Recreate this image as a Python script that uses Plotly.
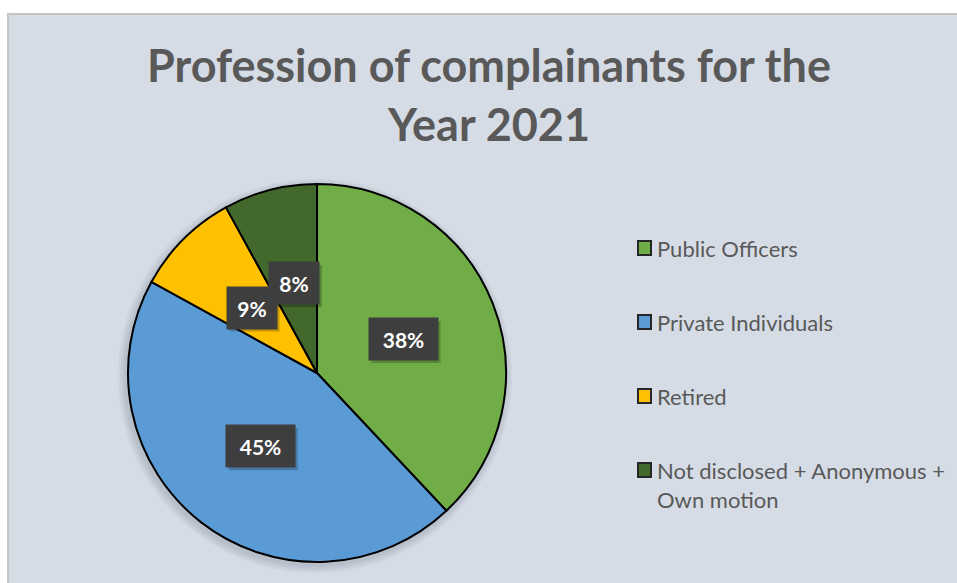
import math
import plotly.graph_objects as go

# Complainant profession shares, 2021
categories = ["Public Officers", "Private Individuals", "Retired",
              "Not disclosed + Anonymous + Own motion"]
legend_labels = ["Public Officers", "Private Individuals", "Retired",
                 "Not disclosed + Anonymous +<br>Own motion"]
values = [38, 45, 9, 8]
colors = ["#70AD47", "#5B9BD5", "#FFC000", "#43682B"]

W, H = 957, 583
CX, CY, R = 317, 373, 189          # pie centre and radius, px
LABEL_R = 0.49 * R                 # where the percentage boxes sit
TEXT = "#595959"
FONT = "Lato"

fig = go.Figure()
fig.add_trace(go.Pie(
    labels=categories,
    values=values,
    sort=False,
    direction="clockwise",
    rotation=0,
    marker=dict(colors=colors, line=dict(color="#000000", width=2)),
    textinfo="none",
    hoverinfo="label+percent",
    showlegend=False,
    domain=dict(x=[(CX - R) / W, (CX + R) / W],
                y=[1 - (CY + R) / H, 1 - (CY - R) / H]),
))

def px(x, y):
    return x / W, 1 - y / H

shapes = []
annotations = []

# chart area panel
shapes.append(dict(type="rect", xref="paper", yref="paper", layer="below",
                   x0=8 / W, x1=1.01, y0=-0.01, y1=1 - 14 / H,
                   fillcolor="#D6DCE5", line=dict(color="#C4C4C4", width=2)))

# soft shadow around the pie
for i in range(4):
    r = R + 2 + 2 * i
    shapes.append(dict(type="circle", xref="paper", yref="paper", layer="below",
                       x0=(CX - 2 - r) / W, x1=(CX - 2 + r) / W,
                       y0=1 - (CY + 3 + r) / H, y1=1 - (CY + 3 - r) / H,
                       fillcolor="rgba(60,70,90,0.05)", line=dict(width=0)))

# percentage label boxes, placed at each slice's mid-angle
total = sum(values)
cum = 0
for v in values:
    mid = (cum + v / 2) / total * 2 * math.pi
    cum += v
    lx = CX + LABEL_R * math.sin(mid)
    ly = CY - LABEL_R * math.cos(mid)
    txt = f"{round(v / total * 100)}%"
    w = 19 * len(txt) + 12
    h = 42
    # drop shadow under the box
    x0, y0 = px(lx - w / 2 + 3, ly - h / 2 + 3)
    x1, y1 = px(lx + w / 2 + 3, ly + h / 2 + 3)
    shapes.append(dict(type="rect", xref="paper", yref="paper", layer="above",
                       x0=x0, x1=x1, y0=y1, y1=y0,
                       fillcolor="rgba(0,0,0,0.22)", line=dict(width=0)))
    x, y = px(lx, ly)
    annotations.append(dict(
        x=x, y=y, xref="paper", yref="paper", showarrow=False,
        text=f"<b>{txt}</b>", width=w - 16, height=h - 16, borderpad=8,
        bgcolor="#3E3E3E", font=dict(family=FONT, size=21, color="#FFFFFF"),
        xanchor="center", yanchor="middle"))

# legend
for i, (lab, col) in enumerate(zip(legend_labels, colors)):
    cy = 248 + 74 * i
    x0, y0 = px(638, cy - 7)
    x1, y1 = px(651, cy + 7)
    shapes.append(dict(type="rect", xref="paper", yref="paper",
                       x0=x0, x1=x1, y0=y1, y1=y0, fillcolor=col,
                       line=dict(color="#262626", width=2)))
    tx, ty = px(655, cy - 15)
    annotations.append(dict(
        x=tx, y=ty, xref="paper", yref="paper", showarrow=False,
        text=lab, align="left", xanchor="left", yanchor="top",
        font=dict(family=FONT, size=22, color=TEXT)))

# title
tx, ty = px(489, 36)
annotations.append(dict(
    x=tx, y=ty, xref="paper", yref="paper", showarrow=False,
    text="<b>Profession of complainants for the<br>Year 2021</b>",
    xanchor="center", yanchor="top", align="center",
    font=dict(family=FONT, size=45, color=TEXT)))

fig.update_layout(
    width=W, height=H,
    margin=dict(l=0, r=0, t=0, b=0),
    paper_bgcolor="#FFFFFF",
    plot_bgcolor="#FFFFFF",
    shapes=shapes,
    annotations=annotations,
)

fig.write_html("out.html")
